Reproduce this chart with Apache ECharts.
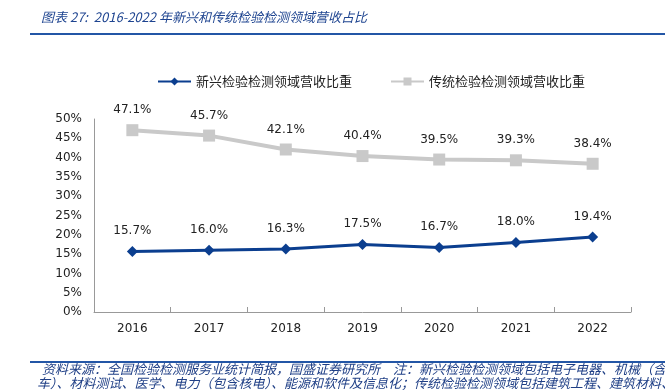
<!DOCTYPE html>
<html>
<head>
<meta charset="utf-8">
<script src="https://cdn.jsdelivr.net/npm/echarts@6/dist/echarts.min.js"></script>
<style>
html,body{margin:0;padding:0;background:#fff;}
#c{width:665px;height:392px;}
</style>
</head>
<body>
<div id="c"></div>
<script>
const years = ['2016','2017','2018','2019','2020','2021','2022'];
const emergingShare = [15.7, 16.0, 16.3, 17.5, 16.7, 18.0, 19.4];
const traditionalShare = [47.1, 45.7, 42.1, 40.4, 39.5, 39.3, 38.4];
const seriesNames = ['新兴检验检测领域营收比重', '传统检验检测领域营收比重'];
const titleText = '图表 27:  2016-2022 年新兴和传统检验检测领域营收占比';
const noteLine1 = '资料来源：全国检验检测服务业统计简报，国盛证券研究所　注：新兴检验检测领域包括电子电器、机械（含汽';
const noteLine2 = '车）、材料测试、医学、电力（包含核电）、能源和软件及信息化；传统检验检测领域包括建筑工程、建筑材料、';

const chart = echarts.init(document.getElementById('c'), null, {renderer: 'canvas'});
const numFont = 'DejaVu Sans, Verdana, sans-serif';
const cjkFont = 'Noto Sans CJK SC, sans-serif';
const blue = '#0B3E8F';
const gray = '#C9C9C9';
const noteColor = '#1F3F86';

chart.setOption({
  animation: false,
  backgroundColor: '#fff',
  graphic: [
    {type: 'text', left: 41, top: 11, style: {text: titleText, font: 'italic 13px ' + cjkFont, fill: '#1E4490'}},
    {type: 'rect', shape: {x: 30, y: 33, width: 640, height: 2}, style: {fill: '#2356A6'}},
    {type: 'rect', shape: {x: 30, y: 361, width: 640, height: 2}, style: {fill: '#2356A6'}},
    {type: 'text', left: 42, top: 363, style: {text: noteLine1, font: 'italic 13px ' + cjkFont, fill: noteColor}},
    {type: 'text', left: 37, top: 377, style: {text: noteLine2, font: 'italic 13px ' + cjkFont, fill: noteColor}}
  ],
  legend: {
    data: seriesNames,
    left: 152,
    top: 70,
    itemWidth: 33,
    itemHeight: 10,
    itemGap: 38,
    textStyle: {fontFamily: cjkFont, fontSize: 13, color: '#222'}
  },
  grid: {left: 94, right: 34, top: 119, bottom: 80, containLabel: false},
  xAxis: {
    type: 'category',
    data: years,
    boundaryGap: true,
    axisLine: {lineStyle: {color: '#999', width: 1}},
    axisTick: {show: true, inside: true, length: 5, lineStyle: {color: '#999'}},
    axisLabel: {fontFamily: numFont, fontSize: 12, color: '#222', margin: 11}
  },
  yAxis: {
    type: 'value',
    min: 0, max: 50, interval: 5,
    axisLine: {show: true, lineStyle: {color: '#999', width: 1}},
    axisTick: {show: false},
    splitLine: {show: false},
    axisLabel: {fontFamily: numFont, fontSize: 12, color: '#222', margin: 12, formatter: '{value}%'}
  },
  series: [
    {
      name: seriesNames[0],
      type: 'line',
      data: emergingShare,
      symbol: 'diamond',
      symbolSize: 11,
      lineStyle: {color: blue, width: 3},
      itemStyle: {color: blue},
      label: {show: true, position: 'top', distance: 9, fontFamily: numFont, fontSize: 12, color: '#222',
        formatter: p => p.value.toFixed(1) + '%'}
    },
    {
      name: seriesNames[1],
      type: 'line',
      data: traditionalShare,
      symbol: 'rect',
      symbolSize: 12,
      lineStyle: {color: gray, width: 4},
      itemStyle: {color: gray},
      label: {show: true, position: 'top', distance: 8, fontFamily: numFont, fontSize: 12, color: '#222',
        formatter: p => p.value.toFixed(1) + '%'}
    }
  ]
});
</script>
</body>
</html>
